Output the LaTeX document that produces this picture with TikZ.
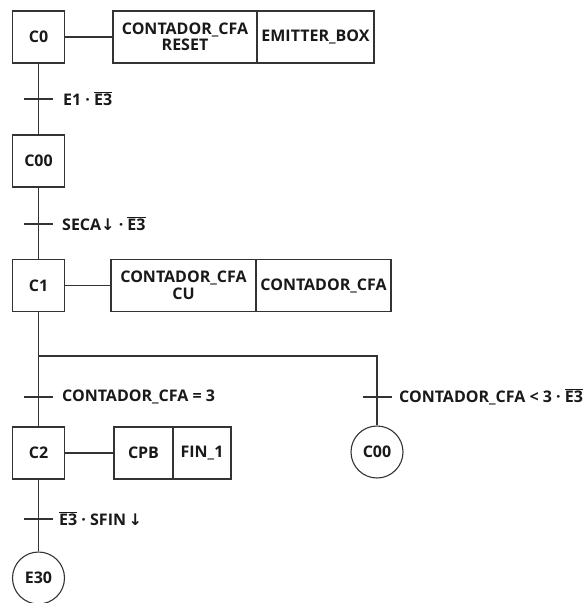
\documentclass[tikz,border=0pt]{standalone}
\usepackage{fontspec}
\setmainfont{Open Sans}
\newfontfamily\dvfont{DejaVu Sans}
\newcommand\ovl[1]{\leavevmode\setbox0\hbox{#1}\rlap{\raisebox{\dimexpr\ht0+1.3pt\relax}{\rule{\wd0}{1.1pt}}}\box0\relax}
\newcommand\darr{{\dvfont\bfseries ↓}}
\begin{document}
\begin{tikzpicture}[x=1pt,y=-1pt,
  every node/.style={font=\fontsize{16}{16.5}\selectfont\bfseries, text=black!90, inner sep=0pt},
  stepbox/.style={draw=black!80, line width=1.1pt, minimum width=52pt, minimum height=52pt},
  stepcirc/.style={draw=black!80, line width=1.1pt, circle, minimum size=52pt},
  actbox/.style={draw=black!80, line width=1.1pt, minimum height=52pt, align=center},
  link/.style={draw=black!80, line width=1.1pt},
  tlabel/.style={anchor=west}]
\useasboundingbox (0,0) rectangle (583,603);
% steps
\node[stepbox] (C0) at (38.5,37) {C0};
\node[stepbox] (C00) at (38.5,161) {C00};
\node[stepbox] (C1) at (38.5,285.5) {C1};
\node[stepbox] (C2) at (38.5,453) {C2};
\node[stepcirc] (C00r) at (377,452) {C00};
\node[stepcirc] (E30) at (38.5,578) {E30};
% actions
\node[actbox, minimum width=144pt] (a01) at (185,37) {CONTADOR\_CFA\\RESET};
\node[actbox, minimum width=117pt] (a02) at (315.5,37) {EMITTER\_BOX};
\node[actbox, minimum width=145pt] (a11) at (183.5,285.5) {CONTADOR\_CFA\\CU};
\node[actbox, minimum width=135pt] (a12) at (323.5,285.5) {CONTADOR\_CFA};
\node[actbox, minimum width=59pt] (a21) at (143.5,453) {CPB};
\node[actbox, minimum width=58pt] (a22) at (202,453) {FIN\_1};
\draw[link] (C0) -- (a01);
\draw[link] (C1) -- (a11);
\draw[link] (C2) -- (a21);
% transitions
\coordinate (t1) at (38.5,99);
\coordinate (t2) at (38.5,224);
\coordinate (t3) at (38.5,397);
\coordinate (t4) at (377,397);
\coordinate (t5) at (38.5,519);
\coordinate (brL) at (38.5,356);
\coordinate (brR) at (377,356);
\draw[link] (C0) -- (C00);
\draw[link] (C00) -- (C1);
\draw[link] (C1) -- (C2);
\draw[link] (brL) -- (brR) -- (C00r);
\draw[link] (C2) -- (E30);
\foreach \t in {t1,t2,t3,t4,t5}
  \draw[link] ([xshift=-14.5pt]\t) -- ([xshift=14.5pt]\t);
\node[tlabel] (l1) at (63,99) {E1 · \ovl{E3}};
\node[tlabel] (l2) at (62,224) {SECA\darr{} · \ovl{E3}};
\node[tlabel] (l3) at (62,397) {CONTADOR\_CFA = 3};
\node[tlabel] (l4) at (399,397) {CONTADOR\_CFA < 3 · \ovl{E3}};
\node[tlabel] (l5) at (59,519) {\ovl{E3} · SFIN\,\darr};
\end{tikzpicture}
\end{document}
